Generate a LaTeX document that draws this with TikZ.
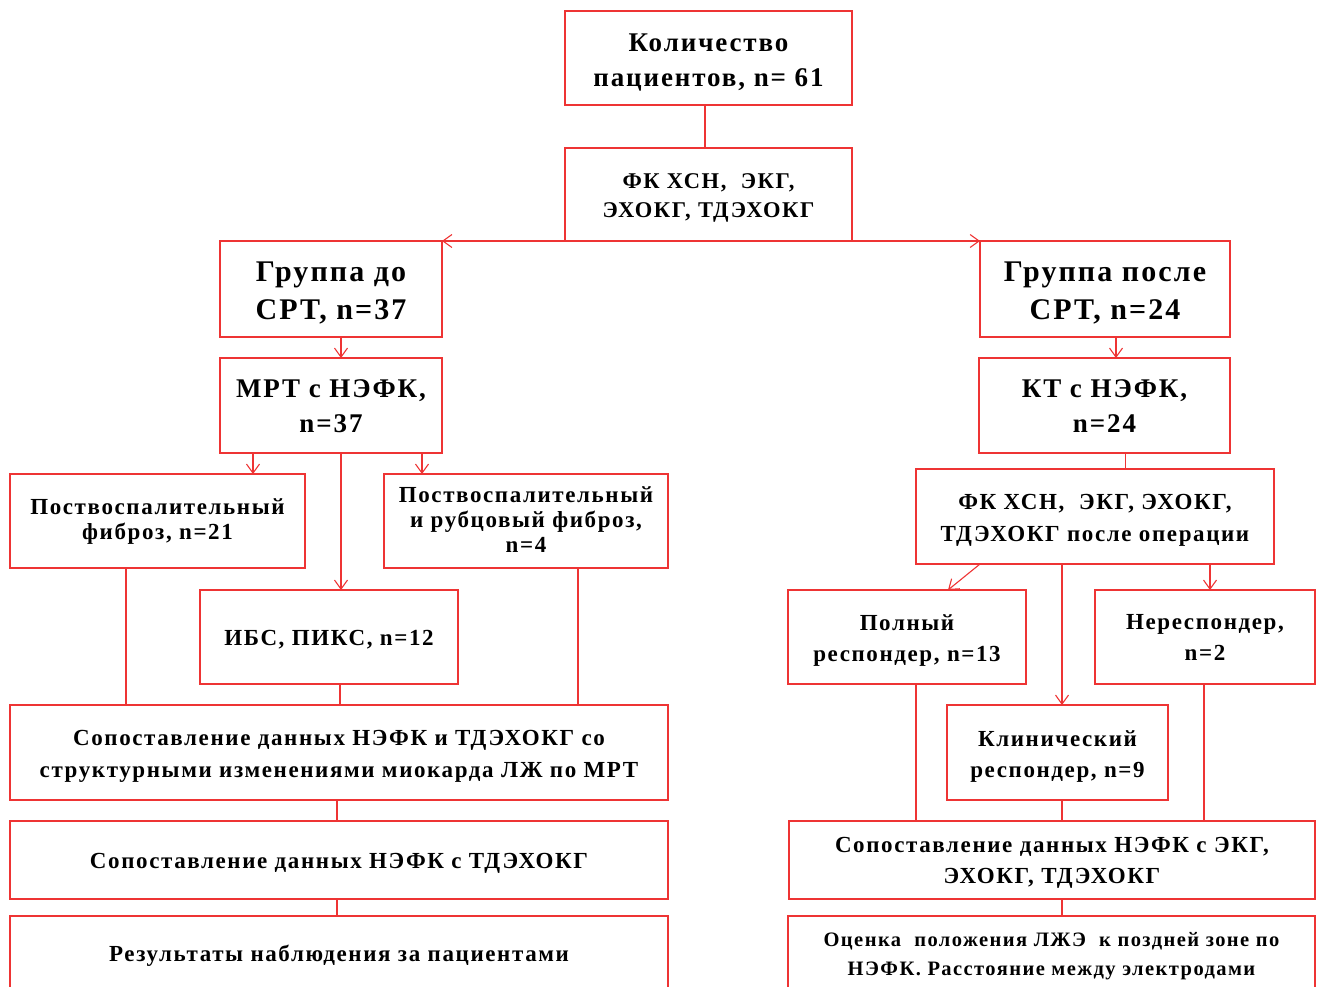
\documentclass[tikz,border=0pt]{standalone}
\usepackage{fontspec}
\setmainfont{Liberation Serif}
\usetikzlibrary{arrows.meta}
\definecolor{lred}{RGB}{238,52,52}
\newcommand{\fs}[2]{\fontsize{#1}{#2}\selectfont\bfseries\addfontfeature{LetterSpace=7}}
\newcommand{\tx}[2][3]{\raisebox{-#1pt}[\height][\depth]{\begin{tabular}{@{}c@{}}#2\end{tabular}}}
\tikzset{
  box/.style={draw=lred, line width=1.3pt, inner sep=0pt, outer sep=0pt, anchor=north west, text=black},
  arr/.style={draw=lred, line width=1.1pt, -{Straight Barb[length=9pt,width=13pt,line width=1.1pt]}},
  ln/.style={draw=lred, line width=1.1pt},
}
\begin{document}
\begin{tikzpicture}[x=1pt,y=-1pt]
\path[use as bounding box] (0,0) rectangle (1322,987);
\clip (0,0) rectangle (1322,987);
% left / top
\node[box, minimum width=287pt, minimum height=94pt, font=\fs{27}{35}] (top) at (565,11) {\tx[4.5]{Количество\\пациентов, n= 61}};
\node[box, minimum width=287pt, minimum height=93pt, font=\fs{22.5}{30}] (fka) at (565,148) {\tx[2.5]{ФК ХСН,\ \ ЭКГ,\\ЭХОКГ, ТДЭХОКГ}};
\node[box, minimum width=222pt, minimum height=96pt, font=\fs{30}{38}] (gra) at (220,241) {\tx[3.5]{Группа до\\СРТ, n=37}};
\node[box, minimum width=250pt, minimum height=96pt, font=\fs{30}{38}] (grb) at (980,241) {\tx[3.5]{Группа после\\СРТ, n=24}};
\node[box, minimum width=222pt, minimum height=95pt, font=\fs{27}{35}] (mri) at (220,358) {\tx[2]{МРТ с НЭФК,\\n=37}};
\node[box, minimum width=251pt, minimum height=95pt, font=\fs{27}{35}] (kt) at (979,358) {\tx[2]{КТ с НЭФК,\\n=24}};
\node[box, minimum width=295pt, minimum height=94pt, font=\fs{23}{25}] (fib1) at (10,474) {\tx[0.5]{Поствоспалительный\\фиброз, n=21}};
\node[box, minimum width=284pt, minimum height=94pt, font=\fs{23}{25}] (fib2) at (384,474) {\tx[1]{Поствоспалительный\\и рубцовый фиброз,\\n=4}};
\node[box, minimum width=258pt, minimum height=94pt, font=\fs{23}{28}] (ibs) at (200,590) {\tx[3]{ИБС, ПИКС, n=12}};
\node[box, minimum width=658pt, minimum height=95pt, font=\fs{23}{32}] (cmpa) at (10,705) {\tx[3]{Сопоставление данных НЭФК и ТДЭХОКГ со\\структурными изменениями миокарда ЛЖ по МРТ}};
\node[box, minimum width=658pt, minimum height=78pt, font=\fs{23}{28}] (cmpb) at (10,821) {\tx[3]{Сопоставление данных НЭФК с ТДЭХОКГ}};
\node[box, minimum width=658pt, minimum height=76pt, font=\fs{23}{28}] (res) at (10,916) {\tx[2]{Результаты наблюдения за пациентами}};
% right
\node[box, minimum width=358pt, minimum height=95pt, font=\fs{23}{32}] (fkb) at (916,469) {\tx[3]{ФК ХСН,\ \ ЭКГ, ЭХОКГ,\\ТДЭХОКГ после операции}};
\node[box, minimum width=238pt, minimum height=94pt, font=\fs{23}{31}] (full) at (788,590) {\tx[3]{Полный\\респондер, n=13}};
\node[box, minimum width=220pt, minimum height=94pt, font=\fs{23}{31}] (nonr) at (1095,590) {\tx[1.5]{Нереспондер,\\n=2}};
\node[box, minimum width=221pt, minimum height=95pt, font=\fs{23}{31}] (clin) at (947,705) {\tx[3]{Клинический\\респондер, n=9}};
\node[box, minimum width=526pt, minimum height=78pt, font=\fs{23}{31}] (cmpc) at (789,821) {\tx[2]{Сопоставление данных НЭФК с ЭКГ,\\ЭХОКГ, ТДЭХОКГ}};
\node[box, minimum width=527pt, minimum height=78pt, font=\fs{20.5}{29}] (est) at (788,916) {\tx[0.5]{Оценка\ \ положения ЛЖЭ\ \ к поздней зоне по\\НЭФК. Расстояние между электродами}};
% connectors
\draw[ln] ([xshift=-3.5pt]top.south) -- ([xshift=-3.5pt]fka.north);
\draw[arr] (fka.south west) -- (fka.south west -| gra.north east);
\draw[arr] (fka.south east) -- (fka.south east -| grb.north west);
\draw[arr] ([xshift=10pt]gra.south) -- ([xshift=10pt]gra.south |- mri.north);
\draw[arr] ([xshift=11pt]grb.south) -- ([xshift=11pt]grb.south |- kt.north);
\draw[arr] ([xshift=33pt]mri.south west) -- ([xshift=33pt]mri.south west |- fib1.north);
\draw[arr] ([xshift=-20pt]mri.south east) -- ([xshift=-20pt]mri.south east |- fib2.north);
\draw[arr] ([xshift=10pt]mri.south) -- ([xshift=10pt]mri.south |- ibs.north);
\draw[ln] ([xshift=-31.5pt]fib1.south) -- ([xshift=-31.5pt]fib1.south |- cmpa.north);
\draw[ln] ([xshift=11pt]ibs.south) -- ([xshift=11pt]ibs.south |- cmpa.north);
\draw[ln] ([xshift=52pt]fib2.south) -- ([xshift=52pt]fib2.south |- cmpa.north);
\draw[ln] ([xshift=-2pt]cmpa.south) -- ([xshift=-2pt]cmpa.south |- cmpb.north);
\draw[ln] ([xshift=-2pt]cmpb.south) -- ([xshift=-2pt]cmpb.south |- res.north);
\draw[ln] ([xshift=21pt]kt.south) -- ([xshift=21pt]kt.south |- fkb.north);
\draw[arr] ([xshift=-115pt]fkb.south) -- ([xshift=41pt]full.north);
\draw[arr] ([xshift=115pt]fkb.south) -- ([xshift=115pt]fkb.south |- nonr.north);
\draw[arr] ([xshift=-33pt]fkb.south) -- ([xshift=-33pt]fkb.south |- clin.north);
\draw[ln] ([xshift=9pt]full.south) -- ([xshift=9pt]full.south |- cmpc.north);
\draw[ln] ([xshift=-1pt]nonr.south) -- ([xshift=-1pt]nonr.south |- cmpc.north);
\draw[ln] ([xshift=4.5pt]clin.south) -- ([xshift=4.5pt]clin.south |- cmpc.north);
\draw[ln] ([xshift=10pt]cmpc.south) -- ([xshift=10pt]cmpc.south |- est.north);
\end{tikzpicture}
\end{document}
